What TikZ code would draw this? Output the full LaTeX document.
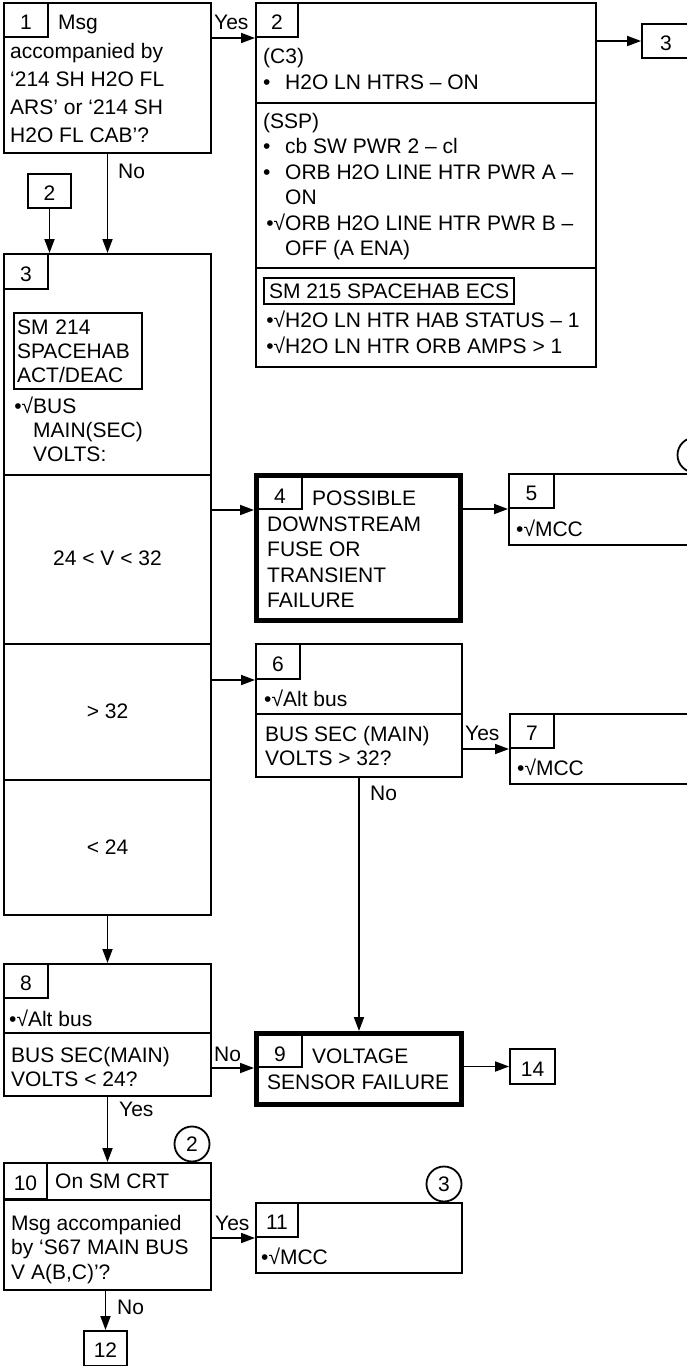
\documentclass[tikz,border=0pt]{standalone}
\usepackage{fontspec}
\setmainfont{Liberation Sans}
\usetikzlibrary{arrows.meta}
\newcommand{\fs}{\fontsize{21}{25.5}\selectfont}
\newcommand{\bul}{\makebox[22pt][l]{•}}
\newcommand{\chk}{\makebox[22pt][r]{•√}}
\newcommand{\indt}{\hspace*{22pt}}
\begin{document}
\begin{tikzpicture}[x=1pt, y=-1pt, >={Triangle[length=14pt,width=10pt]},
	every node/.style={font=\fs},
	box/.style={draw, line width=2.4pt, inner sep=0pt, anchor=north west},
	heavy/.style={box, line width=5pt},
	cell/.style={draw, line width=1.8pt, inner sep=0pt, anchor=north west, text height=19pt, text depth=0pt},
	heavycell/.style={cell, text height=24pt},
	refbox/.style={draw, line width=1.8pt, inner sep=0pt, text height=19pt, text depth=0pt},
	smbox/.style={draw, line width=2pt, anchor=north west, inner xsep=3pt, inner ysep=0pt},
	txt/.style={inner sep=0pt, anchor=base west, align=left},
	lbl/.style={inner sep=0pt, anchor=base west},
	circ/.style={draw, circle, line width=1.8pt, inner sep=0pt, minimum size=35pt, text height=15pt, text depth=0pt},
	link/.style={->, line width=1.8pt},
	divider/.style={line width=2pt}]
	\useasboundingbox (0,0) rectangle (686,1366);
	
	% outer boxes
	\node[box, minimum width=206.6pt, minimum height=149.6pt] (b1) at (3,2) {};
	\node[box, minimum width=339.6pt, minimum height=363.6pt] (b2) at (255,2) {};
	\node[box, minimum width=206.6pt, minimum height=660.6pt] (b3) at (3,253) {};
	\node[heavy, minimum width=204pt, minimum height=145pt] (b4) at (254,473) {};
	\node[box, minimum width=219.6pt, minimum height=70.6pt] (b5) at (508,473) {};
	\node[box, minimum width=205.6pt, minimum height=132.6pt] (b6) at (255,643) {};
	\node[box, minimum width=218.6pt, minimum height=69.6pt] (b7) at (509,713) {};
	\node[box, minimum width=206.6pt, minimum height=131.6pt] (b8) at (3,963) {};
	\node[heavy, minimum width=205pt, minimum height=71pt] (b9) at (254,1031) {};
	\node[box, minimum width=206.6pt, minimum height=126.6pt] (b10) at (3,1162) {};
	\node[box, minimum width=205.6pt, minimum height=69.6pt] (b11) at (255,1202) {};
	
	% step numbers
	\node[cell, minimum width=44.2pt, minimum height=34.2pt] (c1) at (3,2) {1};
	\node[cell, minimum width=42.2pt, minimum height=34.2pt] (c2) at (255,2) {2};
	\node[cell, minimum width=44.2pt, minimum height=35.2pt] (c3) at (3,253) {3};
	\node[heavycell, minimum width=47.2pt, minimum height=35.2pt] (c4) at (254,473) {\hspace*{3pt}4};
	\node[cell, minimum width=45.2pt, minimum height=34.2pt] (c5) at (508,473) {5};
	\node[cell, minimum width=44.2pt, minimum height=35.2pt] (c6) at (255,643) {6};
	\node[cell, minimum width=44.2pt, minimum height=34.2pt] (c7) at (509,713) {7};
	\node[cell, minimum width=44.2pt, minimum height=34.2pt] (c8) at (3,963) {8};
	\node[heavycell, minimum width=47.2pt, minimum height=35.2pt] (c9) at (254,1031) {\hspace*{3pt}9};
	\node[cell, minimum width=43.2pt, minimum height=36.2pt] (c10) at (3,1162) {10};
	\node[cell, minimum width=42.2pt, minimum height=34.2pt] (c11) at (255,1202) {11};
	
	% off-page references
	\node[refbox, minimum width=43pt, minimum height=34pt] (r2) at (49.5,191) {2};
	\node[refbox, minimum width=48pt, minimum height=34pt] (r3) at (666,41) {3};
	\node[refbox, minimum width=45pt, minimum height=35pt] (r14) at (532.5,1066.5) {14};
	\node[refbox, minimum width=43pt, minimum height=35pt, anchor=north] (r12) at (105.5,1330) {12};
	\node[circ] (k1) at (695,455) {};
	\node[circ] (k2) at (192,1144) {2};
	\node[circ] (k3) at (444,1184) {3};
	
	% dividers
	\draw[divider] (b2.west |- 0,103) -- (b2.east |- 0,103);
	\draw[divider] (b2.west |- 0,268) -- (b2.east |- 0,268);
	\foreach \y in {475, 644, 780} {
		\draw[divider] (b3.west |- 0,\y) -- (b3.east |- 0,\y);
	}
	\draw[divider] (b6.west |- 0,714) -- (b6.east |- 0,714);
	\draw[divider] (b8.west |- 0,1033) -- (b8.east |- 0,1033);
	\draw[divider] (b10.west |- c10.south) -- (b10.east |- c10.south);
	
	% box texts (multi-line: placed by last baseline)
	\node[txt] (t1a) at (58,29) {Msg};
	\node[txt, font=\fontsize{21}{28}\selectfont] (t1b) at (10,142) {accompanied by\\‘214 SH H2O FL\\ARS’ or ‘214 SH\\H2O FL CAB’?};
	\node[txt, font=\fontsize{21}{26}\selectfont] (t2a) at (263,89) {(C3)\\\bul H2O LN HTRS – ON};
	\node[txt] (t2b) at (263,255.5) {(SSP)\\\bul cb SW PWR 2 – cl\\\bul ORB H2O LINE HTR PWR A –\\\indt ON\\\chk ORB H2O LINE HTR PWR B –\\\indt OFF (A ENA)};
	\node[smbox, minimum height=26pt, inner xsep=5pt] (s215) at (263,277) {SM 215 SPACEHAB ECS};
	\node[txt, font=\fontsize{21}{26}\selectfont] (t2c) at (263,353) {\chk H2O LN HTR HAB STATUS – 1\\\chk H2O LN HTR ORB AMPS > 1};
	\node[smbox, minimum height=76pt, text width=122pt, align=left, font=\fontsize{21}{24}\selectfont] (s214) at (13,312) {SM 214\\SPACEHAB\\ACT/DEAC};
	\node[txt, font=\fontsize{21}{24}\selectfont] (t3b) at (11,461) {\chk BUS\\\indt MAIN(SEC)\\\indt VOLTS:};
	\node[inner sep=0pt, anchor=base] (v1) at (107.5,565) {24 < V < 32};
	\node[inner sep=0pt, anchor=base] (v2) at (107.5,718) {> 32};
	\node[inner sep=0pt, anchor=base] (v3) at (107.5,854) {< 24};
	\node[txt] (t4a) at (312,505) {POSSIBLE};
	\node[txt] (t4b) at (267,607.5) {DOWNSTREAM\\FUSE OR\\TRANSIENT\\FAILURE};
	\node[txt] (t5) at (516,536) {•√MCC};
	\node[txt] (t6a) at (264,706) {•√Alt bus};
	\node[txt, font=\fontsize{21}{24}\selectfont] (t6b) at (265,765) {BUS SEC (MAIN)\\VOLTS > 32?};
	\node[txt] (t7) at (517,775) {•√MCC};
	\node[txt] (t8a) at (9,1026) {•√Alt bus};
	\node[txt, font=\fontsize{21}{24}\selectfont] (t8b) at (11,1086) {BUS SEC(MAIN)\\VOLTS < 24?};
	\node[txt] (t9a) at (312,1063) {VOLTAGE};
	\node[txt] (t9b) at (267,1089) {SENSOR FAILURE};
	\node[txt] (t10a) at (55,1188) {On SM CRT};
	\node[txt, font=\fontsize{21}{24.5}\selectfont] (t10b) at (11,1279) {Msg accompanied\\by ‘S67 MAIN BUS\\V A(B,C)’?};
	\node[txt] (t11) at (261,1264) {•√MCC};
	
	% connectors
	\draw[link] (b1.east |- c2.south) -- (c2.south west);
	\draw[link] (b2.east |- r3) -- (r3.west);
	\draw[link] (r2.south) -- (r2.south |- b3.north);
	\draw[link] (b1.south) -- (b3.north);
	\draw[link] (b3.east |- c4.south) -- (c4.south west);
	\draw[link] (b4.east |- c5.south) -- (c5.south west);
	\draw[link] (b3.east |- c6.south) -- (c6.south west);
	\draw[link] (b6.east |- c7.south) -- (c7.south west);
	\draw[link] (b6.south) -- (b9.north);
	\draw[link] (b3.south) -- (b8.north);
	\draw[link] (b8.east |- c9.south) -- (c9.south west);
	\draw[link] (b9.east |- r14) -- (r14.west);
	\draw[link] (b8.south) -- (b10.north);
	\draw[link] (b10.east |- c11.south) -- (c11.south west);
	\draw[link] (b10.south -| r12.north) -- (r12.north);
	
	% yes / no
	\node[lbl] (yes1) at (214,29) {Yes};
	\node[lbl] (no1) at (118,178) {No};
	\node[lbl] (yes6) at (465,740) {Yes};
	\node[lbl] (no6) at (370,800) {No};
	\node[lbl] (no8) at (214,1061) {No};
	\node[lbl] (yes8) at (119,1116) {Yes};
	\node[lbl] (yes10) at (215,1230) {Yes};
	\node[lbl] (no10) at (117,1314) {No};
\end{tikzpicture}
\end{document}
